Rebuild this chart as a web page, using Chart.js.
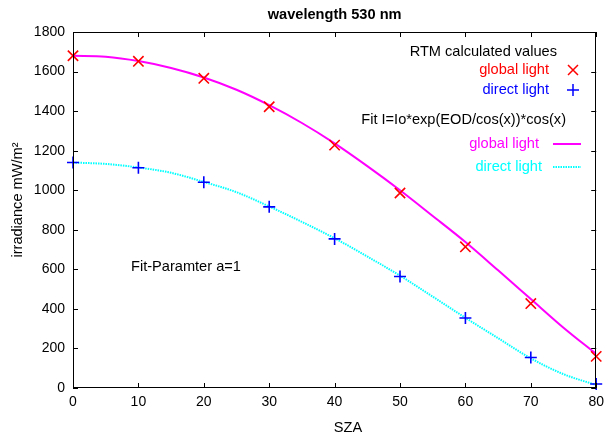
<!DOCTYPE html>
<html>
<head>
<meta charset="utf-8">
<script src="https://cdn.jsdelivr.net/npm/chart.js@4/dist/chart.umd.min.js"></script>
<style>
  html, body { margin: 0; padding: 0; background: #ffffff; }
  #wrap { width: 610px; height: 439px; }
</style>
</head>
<body>
<div id="wrap"><canvas id="c" width="610" height="439"></canvas></div>
<script>
// ---- data ----
const chartTitle = "wavelength 530 nm";
const xTitle = "SZA";
const yTitle = "irradiance mW/m²";
const note = "Fit-Paramter a=1";

const sza = [0, 10, 20, 30, 40, 50, 60, 70, 80];
const globalRTM = [1680, 1652, 1566, 1422, 1228, 986, 714, 427, 160];
const directRTM = [1140, 1114, 1040, 916, 754, 564, 354, 154, 20];

const fitSza = [0, 5, 10, 15, 20, 25, 30, 35, 40, 45, 50, 55, 60, 65, 70, 75, 80];
const globalFit = [1680, 1675, 1653, 1618, 1570, 1508, 1430, 1340, 1237, 1122, 1000, 870, 738, 595, 450, 305, 172];
const directFit = [1140, 1133, 1115, 1088, 1042, 990, 918, 840, 757, 665, 568, 462, 355, 252, 150, 70, 15];

const xTickLabels = [0, 10, 20, 30, 40, 50, 60, 70, 80];
const yTickLabels = [0, 200, 400, 600, 800, 1000, 1200, 1400, 1600, 1800];

const legendHeader1 = "RTM calculated values";
const legendHeader2 = "Fit I=Io*exp(EOD/cos(x))*cos(x)";
const legendGlobal = "global light";
const legendDirect = "direct light";

// ---- chart ----
const FONT = '"Liberation Sans", Arial, Helvetica, sans-serif';
const TXT = 14.6;
const toPts = (xs, ys) => xs.map((x, i) => ({ x: x, y: ys[i] }));

const framePlugin = {
  id: 'frameTicks',
  afterDatasetsDraw(chart) {
    const ctx = chart.ctx, a = chart.chartArea;
    const xs = chart.scales.x, ys = chart.scales.y;
    ctx.save();
    ctx.strokeStyle = '#000';
    ctx.lineWidth = 1;
    ctx.strokeRect(Math.round(a.left) + 0.5, Math.round(a.top) + 0.5,
                   Math.round(a.right - a.left) - 1, Math.round(a.bottom - a.top) - 1);
    const L = 5;
    ctx.beginPath();
    xs.ticks.forEach(t => {
      const px = Math.round(xs.getPixelForValue(t.value)) + 0.5;
      ctx.moveTo(px, a.bottom); ctx.lineTo(px, a.bottom - L);
      ctx.moveTo(px, a.top); ctx.lineTo(px, a.top + L);
    });
    ys.ticks.forEach(t => {
      const py = Math.round(ys.getPixelForValue(t.value)) + 0.5;
      ctx.moveTo(a.left, py); ctx.lineTo(a.left + L, py);
      ctx.moveTo(a.right, py); ctx.lineTo(a.right - L, py);
    });
    ctx.stroke();
    ctx.restore();
  },
  afterDraw(chart) {
    const ctx = chart.ctx;
    ctx.save();
    ctx.font = TXT + 'px ' + FONT;
    ctx.textBaseline = 'middle';
    // axis titles
    ctx.fillStyle = '#000';
    ctx.textAlign = 'center';
    ctx.fillText(xTitle, 348, 428);
    ctx.save();
    ctx.translate(17.5, 200);
    ctx.rotate(-Math.PI / 2);
    ctx.fillText(yTitle, 0, 0);
    ctx.restore();
    // note
    ctx.textAlign = 'left';
    ctx.fillText(note, 131, 267);
    // legend
    ctx.textAlign = 'right';
    ctx.fillStyle = '#000';
    ctx.fillText(legendHeader1, 557, 52);
    ctx.fillStyle = '#ff0000';
    ctx.fillText(legendGlobal, 549, 70);
    ctx.fillStyle = '#0000ff';
    ctx.fillText(legendDirect, 549, 90);
    ctx.fillStyle = '#000';
    ctx.fillText(legendHeader2, 566, 120);
    ctx.fillStyle = '#ff00ff';
    ctx.fillText(legendGlobal, 539, 144);
    ctx.fillStyle = '#00ffff';
    ctx.fillText(legendDirect, 542, 167);
    // legend samples
    ctx.lineWidth = 1.5;
    ctx.strokeStyle = '#ff0000';
    ctx.beginPath();
    ctx.moveTo(568, 65); ctx.lineTo(578, 75);
    ctx.moveTo(568, 75); ctx.lineTo(578, 65);
    ctx.stroke();
    ctx.strokeStyle = '#0000ff';
    ctx.beginPath();
    ctx.moveTo(567, 90); ctx.lineTo(579, 90);
    ctx.moveTo(573, 84); ctx.lineTo(573, 96);
    ctx.stroke();
    ctx.lineWidth = 2;
    ctx.strokeStyle = '#ff00ff';
    ctx.beginPath();
    ctx.moveTo(553, 144); ctx.lineTo(581, 144);
    ctx.stroke();
    ctx.strokeStyle = '#00ffff';
    ctx.setLineDash([1.5, 1]);
    ctx.beginPath();
    ctx.moveTo(553, 167); ctx.lineTo(581, 167);
    ctx.stroke();
    ctx.restore();
  }
};

new Chart(document.getElementById('c'), {
  type: 'line',
  data: {
    datasets: [
      {
        label: 'RTM global light',
        data: toPts(sza, globalRTM),
        showLine: false,
        pointStyle: 'crossRot',
        pointRadius: 7.3,
        pointBorderWidth: 1.6,
        borderColor: '#ff0000',
        backgroundColor: '#ff0000',
        clip: false
      },
      {
        label: 'RTM direct light',
        data: toPts(sza, directRTM),
        showLine: false,
        pointStyle: 'cross',
        pointRadius: 6,
        pointBorderWidth: 1.6,
        borderColor: '#0000ff',
        backgroundColor: '#0000ff',
        clip: false
      },
      {
        label: 'Fit global light',
        data: toPts(fitSza, globalFit),
        borderColor: '#ff00ff',
        borderWidth: 2,
        pointRadius: 0,
        cubicInterpolationMode: 'monotone',
        fill: false
      },
      {
        label: 'Fit direct light',
        data: toPts(fitSza, directFit),
        borderColor: '#00ffff',
        borderWidth: 2,
        borderDash: [1.5, 1],
        pointRadius: 0,
        cubicInterpolationMode: 'monotone',
        fill: false
      }
    ]
  },
  options: {
    responsive: false,
    devicePixelRatio: 1,
    animation: false,
    layout: { padding: { left: 0, right: 10, top: 0, bottom: 0 } },
    plugins: {
      legend: { display: false },
      tooltip: { enabled: false },
      title: {
        display: true,
        text: chartTitle,
        fullSize: false,
        color: '#000',
        font: { family: FONT, size: TXT, weight: 'bold' },
        padding: { top: 6.5, bottom: 8 }
      }
    },
    scales: {
      x: {
        type: 'linear',
        min: xTickLabels[0],
        max: xTickLabels[xTickLabels.length - 1],
        afterBuildTicks: s => { s.ticks = xTickLabels.map(v => ({ value: v })); },
        afterFit: s => { s.height = 51; },
        grid: { display: false, drawTicks: false },
        border: { display: false },
        ticks: { color: '#000', font: { family: FONT, size: 14 }, padding: 6, maxRotation: 0, autoSkip: false,
                 callback: v => String(v) }
      },
      y: {
        type: 'linear',
        min: yTickLabels[0],
        max: yTickLabels[yTickLabels.length - 1],
        afterBuildTicks: s => { s.ticks = yTickLabels.map(v => ({ value: v })); },
        afterFit: s => { s.width = 73; },
        grid: { display: false, drawTicks: false },
        border: { display: false },
        ticks: { color: '#000', font: { family: FONT, size: 14 }, padding: 8, autoSkip: false,
                 callback: v => String(v) }
      }
    }
  },
  plugins: [framePlugin]
});
</script>
</body>
</html>
